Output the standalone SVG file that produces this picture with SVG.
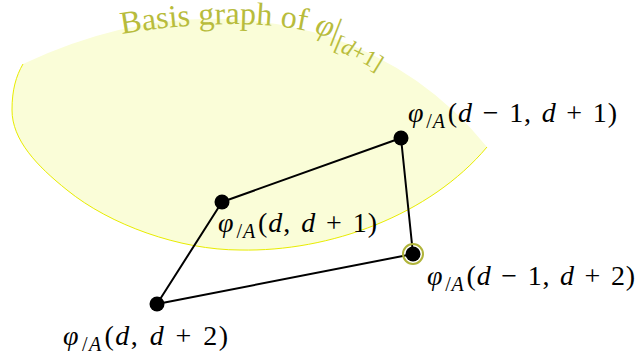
<svg xmlns="http://www.w3.org/2000/svg" width="638" height="356" viewBox="0 0 638 356">
<style>
.lbl{font-family:"Liberation Serif","DejaVu Serif",serif;font-size:28px;fill:#000;word-spacing:2px}
.it{font-style:italic}
.sub{font-size:20px}
.dot{fill:#000}
.edge{stroke:#000;stroke-width:2;fill:none;stroke-linecap:round}
.reg{fill:#fafdd8;stroke:none}
.regline{fill:none;stroke:#e8ec00;stroke-width:1}
.ctext{font-family:"Liberation Serif","DejaVu Serif",serif;font-size:32px;fill:#b8bc3c}
</style>
<defs>
<path id="arcpath" d="M122,34 C180,24 262,18 318,34 C352,45 388,64 416,90"/>
</defs>
<g id="region">
<path class="reg" d="M23,64 Q180,-10 330,37 Q425,70 487,147 C430,215 330,252 240,250 C180,250 110,225 67,190 C37,166 12,140 12,110 C12,90 16,76 23,64 Z"/>
<path class="regline" d="M487,147 C430,215 330,252 240,250 C180,250 110,225 67,190 C37,166 12,140 12,110 C12,90 16,76 23,64"/>
<text class="ctext"><textPath href="#arcpath">Basis graph of <tspan font-style="italic">φ</tspan>|<tspan font-size="23" dy="9">[<tspan font-style="italic">d</tspan>+1]</tspan></textPath></text>
</g>
<g id="connectors">
<line class="edge" x1="222" y1="202" x2="401" y2="138"/>
<line class="edge" x1="401" y1="138" x2="413" y2="254"/>
<line class="edge" x1="413" y1="254" x2="157" y2="304"/>
<line class="edge" x1="157" y1="304" x2="222" y2="202"/>
</g>
<g id="n1">
<circle class="dot" cx="222" cy="202" r="7.5"/>
<text class="lbl" x="218" y="232" textLength="159"><tspan class="it">φ</tspan><tspan class="sub" dx="2" dy="6">/<tspan class="it">A</tspan></tspan><tspan dx="2" dy="-6">(<tspan class="it">d</tspan>, <tspan class="it">d</tspan> + 1)</tspan></text>
</g>
<g id="n2">
<circle class="dot" cx="401" cy="138" r="7.5"/>
<text class="lbl" x="408" y="122" textLength="209"><tspan class="it">φ</tspan><tspan class="sub" dx="2" dy="6">/<tspan class="it">A</tspan></tspan><tspan dx="2" dy="-6">(<tspan class="it">d</tspan> − 1, <tspan class="it">d</tspan> + 1)</tspan></text>
</g>
<g id="n3">
<circle cx="413" cy="254" r="10" fill="none" stroke="#b0b43a" stroke-width="2"/>
<circle class="dot" cx="413" cy="254" r="7.5"/>
<text class="lbl" x="427" y="285" textLength="208"><tspan class="it">φ</tspan><tspan class="sub" dx="2" dy="6">/<tspan class="it">A</tspan></tspan><tspan dx="2" dy="-6">(<tspan class="it">d</tspan> − 1, <tspan class="it">d</tspan> + 2)</tspan></text>
</g>
<g id="n4">
<circle class="dot" cx="157" cy="304" r="7.5"/>
<text class="lbl" x="63" y="345" textLength="165"><tspan class="it">φ</tspan><tspan class="sub" dx="2" dy="6">/<tspan class="it">A</tspan></tspan><tspan dx="2" dy="-6">(<tspan class="it">d</tspan>, <tspan class="it">d</tspan> + 2)</tspan></text>
</g>
</svg>
